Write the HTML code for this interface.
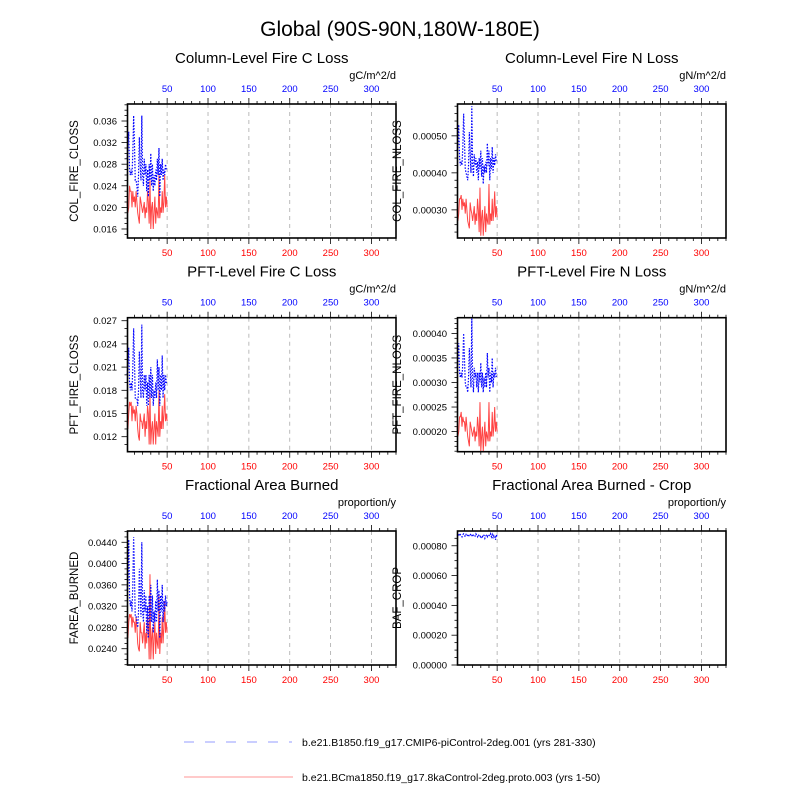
<!DOCTYPE html>
<html><head><meta charset="utf-8"><style>
body{margin:0;background:#fff;}
svg{font-family:"Liberation Sans",sans-serif;}
</style></head><body>
<svg id="chart" width="800" height="800" viewBox="0 0 800 800">
<text x="400" y="36" font-size="21" text-anchor="middle">Global (90S-90N,180W-180E)</text>
<g>
<line x1="184" y1="742" x2="292" y2="742" stroke="#aab0ff" stroke-width="1.3" stroke-dasharray="10,11"/>
<text x="302" y="746" font-size="10.5">b.e21.B1850.f19_g17.CMIP6-piControl-2deg.001 (yrs 281-330)</text>
<line x1="184" y1="777" x2="293" y2="777" stroke="#ffaaaa" stroke-width="1.3"/>
<text x="302" y="781" font-size="10.5">b.e21.BCma1850.f19_g17.8kaControl-2deg.proto.003 (yrs 1-50)</text>
</g>
</svg>
<script>
const years = Array.from({length:50},(_,i)=>i+1);
const xTicks = [50,100,150,200,250,300];
const colCBlue=[0.029,0.031,0.034,0.027,0.026,0.027,0.026,0.030,0.037,0.032,0.025,0.025,0.024,0.022,0.026,0.033,0.028,0.025,0.037,0.026,0.024,0.029,0.026,0.028,0.023,0.027,0.022,0.028,0.025,0.030,0.024,0.028,0.023,0.026,0.024,0.027,0.025,0.029,0.026,0.031,0.022,0.028,0.026,0.029,0.025,0.027,0.026,0.028,0.027,0.027];
const colCRed=[0.021,0.019,0.020,0.024,0.023,0.023,0.020,0.023,0.021,0.022,0.020,0.023,0.021,0.019,0.018,0.017,0.022,0.021,0.020,0.019,0.020,0.021,0.018,0.020,0.019,0.023,0.021,0.017,0.025,0.016,0.020,0.021,0.016,0.019,0.022,0.017,0.020,0.019,0.018,0.026,0.018,0.020,0.019,0.023,0.019,0.021,0.026,0.020,0.022,0.020];
const colNBlue=[0.00046,0.00048,0.00053,0.00044,0.00042,0.00043,0.00042,0.00047,0.00056,0.00049,0.00041,0.00040,0.00039,0.00038,0.00042,0.00051,0.00045,0.00040,0.00058,0.00042,0.00039,0.00045,0.00042,0.00044,0.00040,0.00043,0.00038,0.00044,0.00041,0.00046,0.00039,0.00044,0.00037,0.00042,0.00040,0.00043,0.00040,0.00048,0.00042,0.00046,0.00038,0.00044,0.00041,0.00047,0.00040,0.00044,0.00042,0.00045,0.00043,0.00043];
const colNRed=[0.00030,0.00027,0.00029,0.00033,0.00033,0.00034,0.00030,0.00033,0.00031,0.00032,0.00029,0.00033,0.00030,0.00027,0.00026,0.00025,0.00032,0.00030,0.00029,0.00027,0.00029,0.00031,0.00026,0.00029,0.00027,0.00033,0.00030,0.00024,0.00036,0.00023,0.00028,0.00030,0.00023,0.00027,0.00031,0.00024,0.00029,0.00027,0.00026,0.00037,0.00026,0.00029,0.00027,0.00033,0.00027,0.00030,0.00035,0.00028,0.00031,0.00028];
const pftCBlue=[0.020,0.021,0.0235,0.019,0.018,0.019,0.018,0.021,0.026,0.022,0.017,0.017,0.017,0.016,0.018,0.023,0.020,0.017,0.0265,0.018,0.017,0.020,0.018,0.020,0.016,0.019,0.016,0.020,0.017,0.021,0.017,0.020,0.016,0.018,0.017,0.019,0.017,0.022,0.018,0.021,0.016,0.020,0.018,0.0225,0.017,0.020,0.018,0.020,0.019,0.019];
const pftCRed=[0.014,0.013,0.015,0.0165,0.016,0.0165,0.014,0.016,0.015,0.0155,0.014,0.016,0.015,0.013,0.012,0.0115,0.015,0.014,0.014,0.013,0.014,0.015,0.012,0.014,0.013,0.016,0.015,0.011,0.0175,0.011,0.013,0.014,0.011,0.013,0.015,0.011,0.014,0.013,0.012,0.018,0.012,0.014,0.013,0.016,0.013,0.015,0.0175,0.014,0.015,0.014];
const pftNBlue=[0.00033,0.00035,0.00038,0.00032,0.00031,0.00032,0.00031,0.00034,0.00040,0.00035,0.00030,0.00029,0.00029,0.00028,0.00031,0.00037,0.00033,0.00029,0.00043,0.00031,0.00028,0.00033,0.00031,0.00032,0.00029,0.00032,0.00028,0.00032,0.00030,0.00034,0.00029,0.00032,0.00028,0.00031,0.00029,0.00032,0.00029,0.00036,0.00031,0.00033,0.00028,0.00032,0.00030,0.00035,0.00029,0.00032,0.00031,0.00033,0.00031,0.00031];
const pftNRed=[0.00021,0.00019,0.00020,0.00023,0.00023,0.00024,0.00021,0.00023,0.00022,0.00022,0.00020,0.00023,0.00021,0.00019,0.00018,0.00017,0.00022,0.00021,0.00020,0.00019,0.00020,0.00021,0.00018,0.00020,0.00019,0.00023,0.00021,0.00017,0.00026,0.00016,0.00019,0.00021,0.00016,0.00019,0.00022,0.00017,0.00020,0.00019,0.00018,0.00026,0.00018,0.00020,0.00019,0.00024,0.00019,0.00021,0.00025,0.00020,0.00022,0.00020];
const fareaBlue=[0.035,0.037,0.0445,0.034,0.032,0.033,0.031,0.036,0.045,0.038,0.030,0.030,0.029,0.028,0.031,0.039,0.034,0.030,0.044,0.031,0.029,0.035,0.031,0.034,0.027,0.032,0.026,0.034,0.029,0.036,0.029,0.034,0.027,0.031,0.029,0.033,0.029,0.037,0.031,0.035,0.026,0.034,0.031,0.036,0.029,0.033,0.031,0.034,0.032,0.033];
const fareaRed=[0.028,0.026,0.029,0.0305,0.030,0.0305,0.028,0.030,0.029,0.029,0.027,0.030,0.028,0.025,0.024,0.0235,0.029,0.027,0.027,0.025,0.027,0.029,0.024,0.027,0.025,0.030,0.028,0.022,0.038,0.022,0.026,0.028,0.022,0.026,0.029,0.023,0.027,0.025,0.024,0.034,0.023,0.027,0.025,0.030,0.025,0.028,0.033,0.027,0.029,0.027];
const bafBlue=[0.000875,0.00087,0.00088,0.000865,0.000875,0.00087,0.00086,0.000875,0.00088,0.00087,0.00086,0.000875,0.000865,0.00087,0.00086,0.000875,0.00088,0.000865,0.00087,0.00086,0.000875,0.00087,0.000865,0.00088,0.00087,0.00086,0.000875,0.000865,0.00087,0.00085,0.000865,0.00086,0.000875,0.00087,0.00085,0.000865,0.00087,0.00086,0.000875,0.00087,0.000865,0.00088,0.00086,0.000875,0.00085,0.00087,0.000865,0.00084,0.000875,0.00086];

const panels=[
 {name:'col-fire-c-loss',title:'Column-Level Fire C Loss',units:'gC/m^2/d',ylab:'COL_FIRE_CLOSS',x0:127.5,top:104,bot:238,ymin:0.01433,ymax:0.03915,major:[0.016,0.020,0.024,0.028,0.032,0.036],minor:0.001,dec:3,blue:colCBlue,red:colCRed,labx:78,tlx:117},
 {name:'col-fire-n-loss',title:'Column-Level Fire N Loss',units:'gN/m^2/d',ylab:'COL_FIRE_NLOSS',x0:457.5,top:104,bot:238,ymin:0.000224,ymax:0.000586,major:[0.0003,0.0004,0.0005],minor:0.00002,dec:5,blue:colNBlue,red:colNRed,labx:401,tlx:447},
 {name:'pft-fire-c-loss',title:'PFT-Level Fire C Loss',units:'gC/m^2/d',ylab:'PFT_FIRE_CLOSS',x0:127.5,top:317.7,bot:451.7,ymin:0.01006,ymax:0.02739,major:[0.012,0.015,0.018,0.021,0.024,0.027],minor:0.001,dec:3,blue:pftCBlue,red:pftCRed,labx:78,tlx:117},
 {name:'pft-fire-n-loss',title:'PFT-Level Fire N Loss',units:'gN/m^2/d',ylab:'PFT_FIRE_NLOSS',x0:457.5,top:317.7,bot:451.7,ymin:0.000159,ymax:0.000432,major:[0.0002,0.00025,0.0003,0.00035,0.0004],minor:0.00001,dec:5,blue:pftNBlue,red:pftNRed,labx:401,tlx:447},
 {name:'farea-burned',title:'Fractional Area Burned',units:'proportion/y',ylab:'FAREA_BURNED',x0:127.5,top:531,bot:665,ymin:0.02094,ymax:0.04612,major:[0.024,0.028,0.032,0.036,0.040,0.044],minor:0.001,dec:4,blue:fareaBlue,red:fareaRed,labx:78,tlx:117},
 {name:'baf-crop',title:'Fractional Area Burned - Crop',units:'proportion/y',ylab:'BAF_CROP',x0:457.5,top:531,bot:665,ymin:0,ymax:0.000899,major:[0,0.0002,0.0004,0.0006,0.0008],minor:0.00005,dec:5,blue:bafBlue,red:null,labx:401,tlx:447}
];
const NS='http://www.w3.org/2000/svg';
const svg=document.getElementById('chart');
function mk(tag,attrs,parent){const e=document.createElementNS(NS,tag);for(const k in attrs)e.setAttribute(k,attrs[k]);parent.appendChild(e);return e;}
const W=268.5, XMIN=1.5, XMAX=330;
panels.forEach(p=>{
 const g=mk('g',{},svg);
 
 
 const xs=v=>p.x0+(v-XMIN)/(XMAX-XMIN)*W;
 const ys=v=>p.bot-(v-p.ymin)/(p.ymax-p.ymin)*(p.bot-p.top);
 const cx=p.x0+W/2;
 const t=mk('text',{x:cx,y:p.top-41,'font-size':15,'text-anchor':'middle'},g);t.textContent=p.title;
 
 
 const u=mk('text',{x:p.x0+W,y:p.top-25,'font-size':11,'text-anchor':'end'},g);u.textContent=p.units;
 
 
 xTicks.forEach(v=>{
  const gl=mk('line',{x1:xs(v),x2:xs(v),y1:p.top,y2:p.bot,stroke:'#aaa','stroke-width':0.8,'stroke-dasharray':'4,4'},g);
  
  
  const a=mk('text',{x:xs(v),y:p.top-12,'font-size':9.5,fill:'#0000ff','text-anchor':'middle'},g);a.textContent=v;
  
  
  const b=mk('text',{x:xs(v),y:p.bot+18,'font-size':9.5,fill:'#ff0000','text-anchor':'middle'},g);b.textContent=v;
  
  
 });
 for(let v=10;v<=XMAX;v+=10){const L=(v%50===0)?6:3;
  mk('line',{x1:xs(v),x2:xs(v),y1:p.top,y2:p.top-L,stroke:'#000','stroke-width':0.8},g);
  mk('line',{x1:xs(v),x2:xs(v),y1:p.bot,y2:p.bot+L,stroke:'#000','stroke-width':0.8},g);}
 const nmin=Math.ceil(p.ymin/p.minor-1e-6);
 for(let k=nmin;k*p.minor<=p.ymax+1e-12;k++){const v=k*p.minor;const isMaj=p.major.some(m=>Math.abs(m-v)<p.minor*0.1);const L=isMaj?6:3;
  mk('line',{x1:p.x0,x2:p.x0-L,y1:ys(v),y2:ys(v),stroke:'#000','stroke-width':0.8},g);}
 p.major.forEach(v=>{const l=mk('text',{x:p.tlx,y:ys(v)+3.5,'font-size':9.5,'text-anchor':'end'},g);l.textContent=v.toFixed(p.dec);
  
  });
 const yl=mk('text',{x:p.labx,y:(p.top+p.bot)/2,'font-size':11.5,'text-anchor':'middle',transform:`rotate(-90 ${p.labx} ${(p.top+p.bot)/2})`},g);yl.textContent=p.ylab;
 
 
 if(p.red){const pl=mk('polyline',{points:years.map((yr,i)=>xs(yr)+','+ys(p.red[i])).join(' '),fill:'none',stroke:'#ff4444','stroke-width':1},g);
  
  }
 const pb=mk('polyline',{points:years.map((yr,i)=>xs(yr)+','+ys(p.blue[i])).join(' '),fill:'none',stroke:'#0000ff','stroke-width':1.2,'stroke-dasharray':'1.5,1.5'},g);
 
 
 const fr=mk('rect',{x:p.x0,y:p.top,width:W,height:p.bot-p.top,fill:'none',stroke:'#000','stroke-width':1.6},g);
 
 
});
</script>
</body></html>
